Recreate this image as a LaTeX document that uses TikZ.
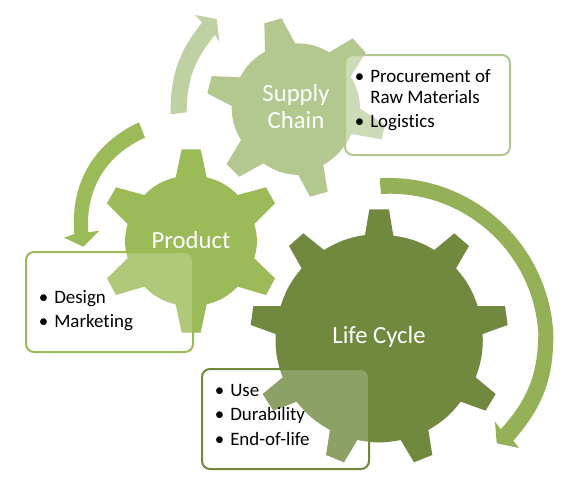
\documentclass[tikz,border=0pt]{standalone}
\usepackage{fontspec}
\setmainfont[Ligatures=NoCommon]{Carlito}
\definecolor{supplyc}{HTML}{B3C88F}
\definecolor{supplyarrow}{HTML}{BFD0A3}
\definecolor{productc}{HTML}{9BBB59}
\definecolor{lifec}{HTML}{71893F}
\definecolor{lifearrow}{HTML}{94B158}
\tikzset{
  gearlabel/.style={text=white,font=\fontsize{18.5}{20}\selectfont,inner sep=0pt,anchor=base},
  listitem/.style={text=black,font=\fontsize{14.2}{16}\selectfont,inner sep=0pt,anchor=base west},
  gearband/.style={rounded corners=8*0.75pt,line width=1.5pt},
  arc15/.style={bend left=15}
}
\newcommand{\bul}[1]{\makebox[12.3\dimexpr0.75pt\relax][l]{\hspace{-2.4pt}•}#1}
\begin{document}
\begin{tikzpicture}[x=0.75pt,y=-0.75pt]
\useasboundingbox (0,0) rectangle (575,483);
\fill[white] (0,0) rectangle (575,483);
% circular arrows
\fill[supplyarrow] (170.7,114.3) to[bend left=20] (202.3,22.3) -- (195,15) -- (216.7,19) -- (219.3,41.7) -- (215,35) to[bend right=20] (186.7,112.3) -- cycle;
\fill[productc] (139,122.3) to[bend right=35] (74.3,234) -- (64,237.7) -- (83.3,246.7) -- (99.3,230.7) -- (88.3,232.3) to[bend left=35] (145,137.7) -- cycle;
\fill[lifearrow] (379.7,178.3) to[bend left=45] (553.3,333.3) to[bend left=21] (513.3,440.7) -- (519,448) -- (496.7,443.3) -- (495,421.7) -- (500.7,429.3) to[bend right=21] (538.3,333.3) to[bend right=45] (381,194) -- cycle;
% supply chain gear
\begin{scope}[shift={(160,0)},scale=1/3]
\fill[supplyc] (315,155) -- (313,70) -- (365,55) -- (405,130) to[arc15] (508,157) -- (578,115) -- (617,158) -- (572,230) to[arc15] (600,325) -- (675,375) -- (665,418) -- (575,402) to[arc15] (490,495) -- (503,575) -- (450,590) -- (415,525) to[arc15] (310,490) -- (238,530) -- (200,492) -- (243,420) to[arc15] (215,318) -- (142,280) -- (155,228) -- (240,232) to[arc15] (315,155) -- cycle;
\end{scope}
% product gear
\begin{scope}[shift={(10,120)},scale=1/3]
\fill[productc] (497,172) -- (515,88) -- (572,88) -- (590,172) to[arc15] (683,225) -- (768,202) -- (795,250) -- (733,312) to[arc15] (733,415) -- (795,475) -- (768,525) -- (683,500) to[arc15] (590,553) -- (572,638) -- (515,638) -- (497,553) to[arc15] (403,500) -- (318,525) -- (291,475) -- (353,415) to[arc15] (353,312) -- (291,250) -- (318,202) -- (403,225) to[arc15] (497,172) -- cycle;
\end{scope}
% life cycle gear
\begin{scope}[shift={(190,170)},scale=1/3]
\fill[lifec] (525,195) -- (538,118) -- (597,118) -- (610,197) to[bend left=11] (733,240) -- (793,190) -- (837,228) -- (798,295) to[bend left=11] (863,408) -- (945,408) -- (953,465) -- (878,492) to[bend left=11] (857,622) -- (917,672) -- (887,722) -- (812,695) to[bend left=11] (715,780) -- (727,855) -- (672,877) -- (632,810) to[bend left=11] (502,810) -- (462,877) -- (408,855) -- (420,780) to[bend left=11] (320,695) -- (250,722) -- (218,672) -- (278,622) to[bend left=11] (257,492) -- (182,465) -- (190,408) -- (272,408) to[bend left=11] (335,295) -- (297,228) -- (340,190) -- (402,240) to[bend left=11] (525,195) -- cycle;
\end{scope}
% text boxes
\draw[gearband,draw=supplyc,fill=white,fill opacity=0.35] (345,55) rectangle (510,155);
\draw[gearband,draw=productc,fill=white,fill opacity=0.2] (26,252) rectangle (193,352);
\draw[gearband,draw=lifec,fill=white,fill opacity=0.2] (202,369) rectangle (369,469);
% gear labels
\node[gearlabel] (supply1) at (296,101.5) {Supply};
\node[gearlabel] (supply2) at (296,128.5) {Chain};
\node[gearlabel] (product) at (191,248) {Product};
\node[gearlabel] (life) at (379,343) {Life Cycle};
% lists
\node[listitem] (s1) at (357.7,82) {\bul{Procurement of}};
\node[listitem] (s2) at (370,103) {Raw Materials};
\node[listitem] (s3) at (357.7,127) {\bul{Logistics}};
\node[listitem] (p1) at (41.7,303) {\bul{Design}};
\node[listitem] (p2) at (41.7,327.5) {\bul{Marketing}};
\node[listitem] (l1) at (217.7,396) {\bul{Use}};
\node[listitem] (l2) at (217.7,420) {\bul{Durability}};
\node[listitem] (l3) at (217.7,445) {\bul{End-of-life}};
\end{tikzpicture}
\end{document}
